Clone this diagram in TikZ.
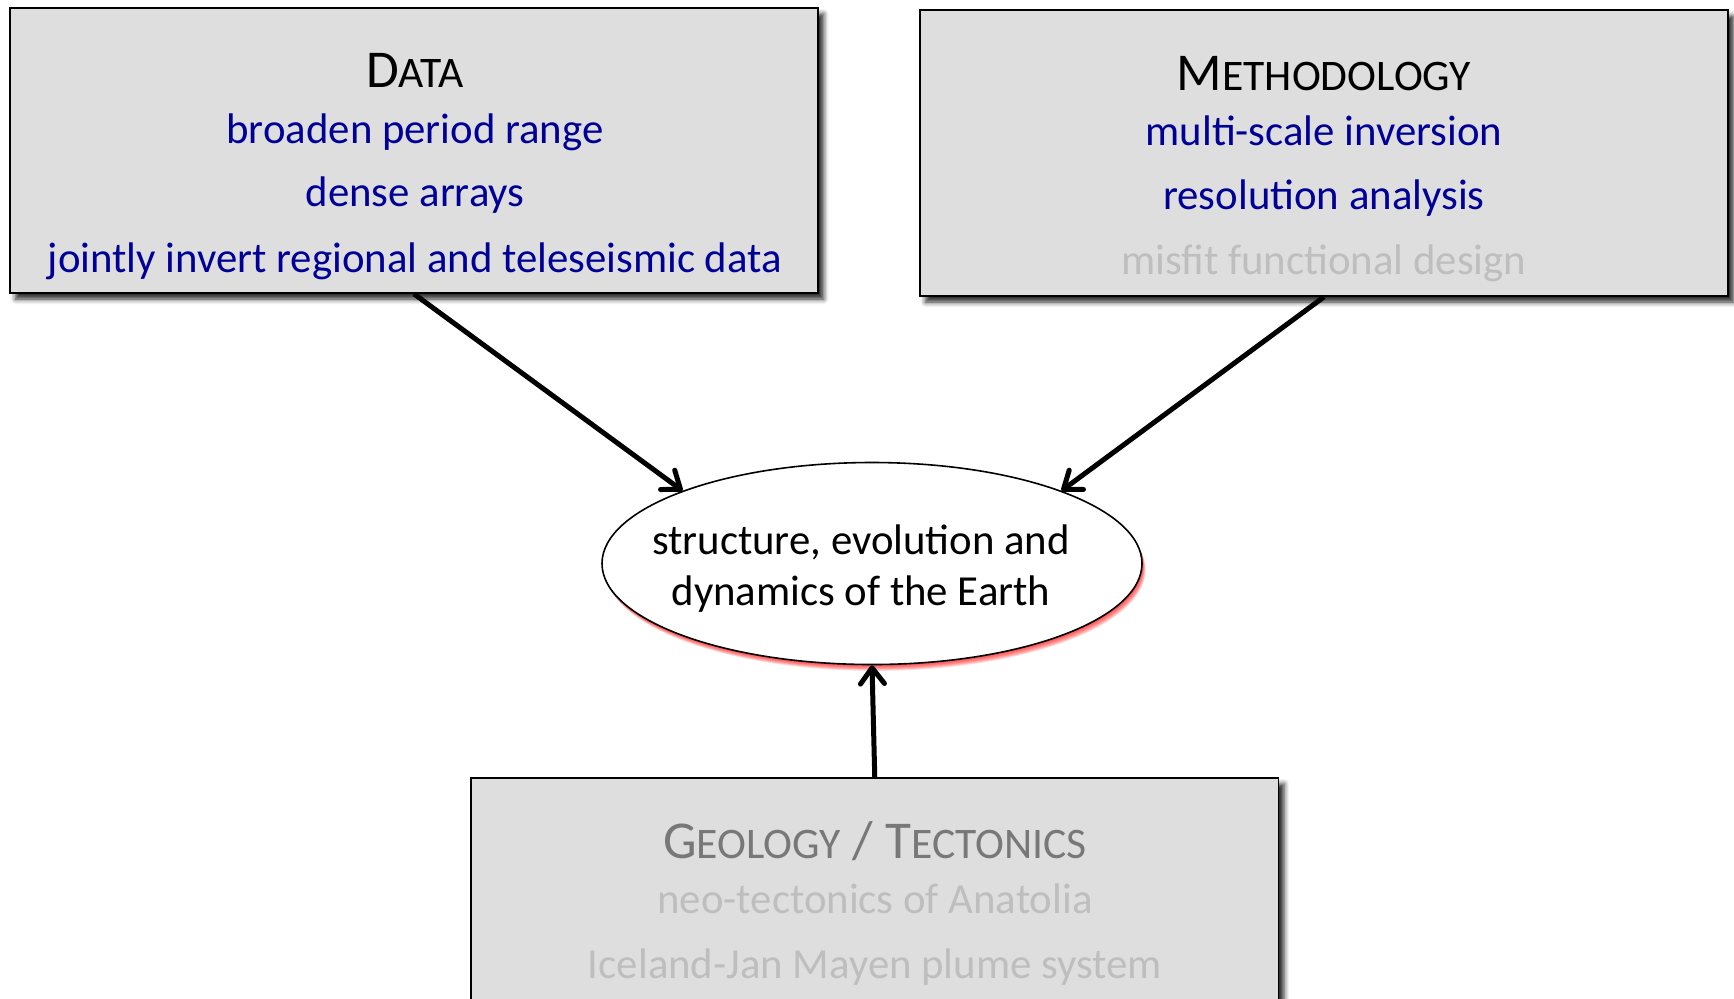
\documentclass[tikz,border=0pt]{standalone}
\usepackage{fontspec}
\setmainfont{Carlito}
\usetikzlibrary{arrows.meta,shapes.geometric,shadows.blur}
\definecolor{boxfill}{RGB}{222,222,222}
\definecolor{itemblue}{RGB}{0,0,150}
\definecolor{lightgrey}{RGB}{190,190,190}
\definecolor{titlegrey}{RGB}{120,120,120}
\newcommand\bodyfont{\fontsize{21.4}{25}\selectfont}
\newcommand\smc[2]{{\fontsize{26.6}{28}\selectfont #1}{\fontsize{21.8}{25}\selectfont #2}}
\begin{document}
\begin{tikzpicture}[x=0.5pt,y=-0.5pt,
  box/.style={draw=black, line width=0.9pt, fill=boxfill, rectangle, inner sep=0,
    blur shadow={shadow xshift=2.8pt,shadow yshift=-3pt,shadow blur radius=2.5pt,shadow opacity=85}},
  txt/.style={anchor=base, inner sep=0, font=\bodyfont},
  conn/.style={line width=2.5pt, -{Straight Barb[length=8pt,width=12pt,round]}}]
\useasboundingbox (0,0) rectangle (1734,998);
% boxes
\node[box, minimum width=404pt, minimum height=142.5pt] (data) at (414,150.5) {};
\node[box, minimum width=404pt, minimum height=143pt] (meth) at (1324,153) {};
\node[box, minimum width=403.75pt, minimum height=116pt] (geo) at (874.75,894) {};
% red glow of the ellipse
\foreach \i in {1,...,7}{
  \fill[red, opacity=0.15] (872+0.5*\i,563.5+0.9*\i) ellipse (270 and 101);
}
\node[ellipse, draw=black, line width=0.8pt, fill=white, minimum width=270pt, minimum height=101pt, inner sep=0] (earth) at (872,563.5) {};
% texts
\node[txt] (dataT) at (415,87) {\smc{D}{ATA}};
\node[txt, text=itemblue] (data1) at (415,143) {broaden period range};
\node[txt, text=itemblue] (data2) at (415,206) {dense arrays};
\node[txt, text=itemblue] (data3) at (415,272) {jointly invert regional and teleseismic data};
\node[txt] (methT) at (1324,90) {\smc{M}{ETHODOLOGY}};
\node[txt, text=itemblue] (meth1) at (1324,145) {multi-scale inversion};
\node[txt, text=itemblue] (meth2) at (1324,209) {resolution analysis};
\node[txt, text=lightgrey] (meth3) at (1324,274) {misfit functional design};
\node[txt] (earth1) at (861,554) {structure, evolution and};
\node[txt] (earth2) at (861,605) {dynamics of the Earth};
\node[txt, text=titlegrey] (geoT) at (875,858) {\smc{G}{EOLOGY}\smc{ / T}{ECTONICS}};
\node[txt, text=lightgrey] (geo1) at (875,913) {neo-tectonics of Anatolia};
\node[txt, text=lightgrey] (geo2) at (875,978) {Iceland-Jan Mayen plume system};
% connectors
\draw[conn] (data.south) -- (earth.159);
\draw[conn] (meth.south) -- (earth.21);
\draw[conn] (geo.north) -- (earth.south);
\end{tikzpicture}
\end{document}
